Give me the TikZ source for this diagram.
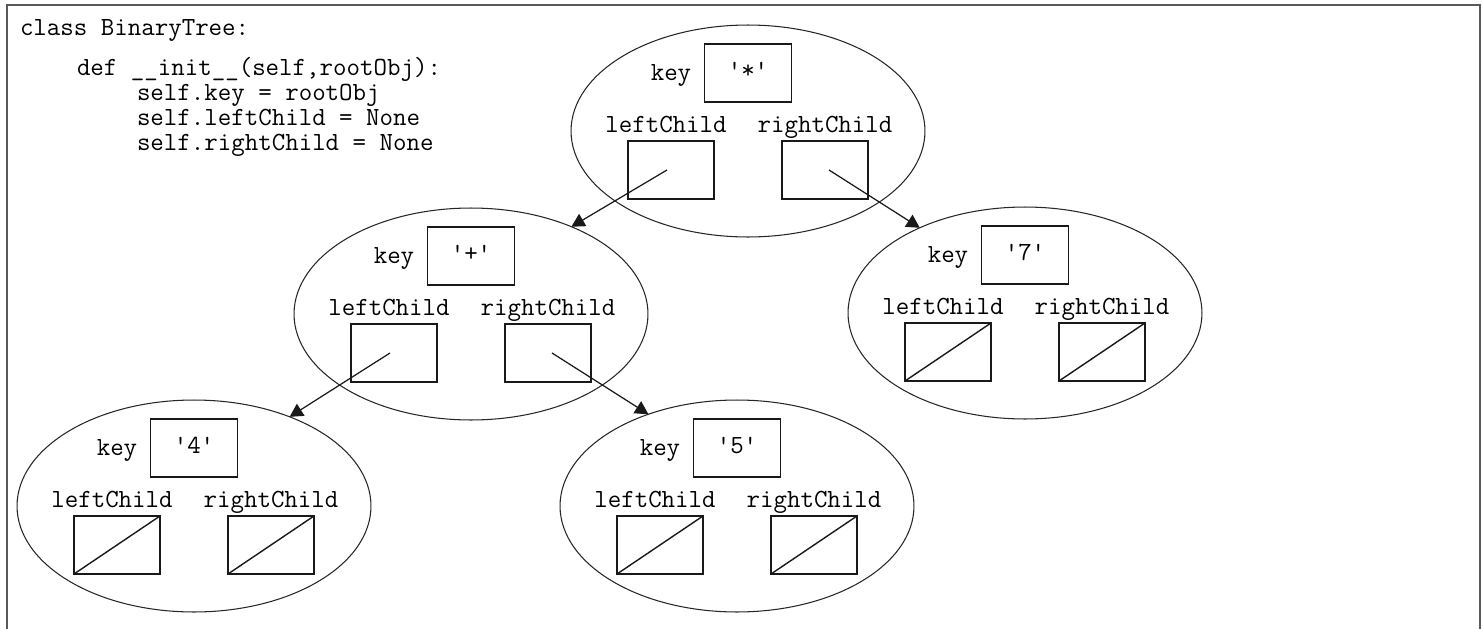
\documentclass[tikz,border=0pt]{standalone}
\usepackage{fontspec}
\usetikzlibrary{shapes.geometric,arrows.meta}

% One tree node: name, centre, stored key
\newcommand{\bstnode}[3]{%
  \begin{scope}[shift={#2}]
    \node[treeell] (#1) at (0,0) {};
    \node[fieldlbl] (#1k) at (-77,-51) {key};
    \node[keybox] (#1v) at (0,-58) {#3};
    \node[fieldlbl] (#1lt) at (-82,1) {leftChild};
    \node[fieldlbl] (#1rt) at (77,1) {rightChild};
    \node[ptrbox] (#1l) at (-77,39) {};
    \node[ptrbox] (#1r) at (77,39) {};
  \end{scope}}
% An empty (None) reference slot
\newcommand{\nullslot}[1]{\draw[nullline] (#1.south west) -- (#1.north east);}

\begin{document}
\begin{tikzpicture}[x=0.02cm,y=-0.02cm,
  every node/.style={font=\ttfamily\fontsize{14.9}{18}\selectfont, inner sep=0pt, outer sep=0pt},
  treeell/.style={draw=black!85, ellipse, minimum width=7.08cm, minimum height=4.24cm, line width=0.6pt},
  keybox/.style={draw=black!90, rectangle, minimum width=1.74cm, minimum height=1.16cm,
                 line width=0.8pt, text height=9pt, text depth=2.2pt},
  ptrbox/.style={draw=black!90, rectangle, minimum width=1.72cm, minimum height=1.16cm, line width=0.8pt},
  fieldlbl/.style={anchor=base},
  codeline/.style={anchor=base west},
  nullline/.style={line width=0.8pt, black!90},
  ptr/.style={line width=0.7pt, black!90, -{Triangle[length=7.5pt,width=8pt]}},
  frameline/.style={line width=1pt, black!65}
]
\useasboundingbox (0,0) rectangle (1482,629);

% surrounding frame
\draw[frameline] (7,640) -- (7,5) -- (1480,5) -- (1480,640);

% class source
\node[codeline] (c1) at (20,35) {class BinaryTree:};
\node[codeline] (c2) at (77,75) {def \_\_init\_\_(self,rootObj):};
\node[codeline] (c3) at (137,100) {self.key = rootObj};
\node[codeline] (c4) at (137,125) {self.leftChild = None};
\node[codeline] (c5) at (137,150) {self.rightChild = None};

% tree nodes
\bstnode{nA}{(748,131)}{'*'}
\bstnode{nB}{(471,314)}{'+'}
\bstnode{nC}{(1025,313)}{'7'}
\bstnode{nD}{(194,506)}{'4'}
\bstnode{nE}{(737,506)}{'5'}

% None references in the leaves
\nullslot{nCl}\nullslot{nCr}
\nullslot{nDl}\nullslot{nDr}
\nullslot{nEl}\nullslot{nEr}

% child references
\draw[ptr] ([xshift=-4*0.02cm]nAl.center) -- (nB.41);
\draw[ptr] ([xshift=4*0.02cm]nAr.center) -- (nC.141);
\draw[ptr] ([xshift=-4*0.02cm]nBl.center) -- (nD.43);
\draw[ptr] ([xshift=4*0.02cm]nBr.center) -- (nE.134);
\end{tikzpicture}
\end{document}
